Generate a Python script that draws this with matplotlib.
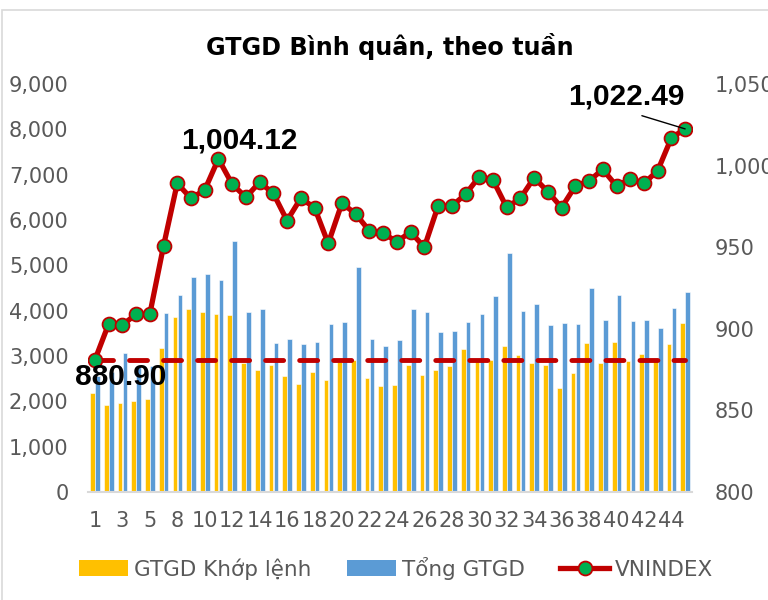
import matplotlib
matplotlib.use("Agg")
import matplotlib.pyplot as plt
import numpy as np
from matplotlib.patches import Patch, Rectangle
from matplotlib.lines import Line2D
from matplotlib.font_manager import FontProperties

# ---------------- data ----------------
weeks = [1, 2, 3, 4, 5, 7, 8, 9, 10, 11, 12, 13, 14, 15, 16, 17, 18, 19, 20, 21, 22,
         23, 24, 25, 26, 27, 28, 29, 30, 31, 32, 33, 34, 35, 36, 37, 38, 39, 40, 41,
         42, 43, 44, 45]

gtgd_khop_lenh = [2190, 1919, 1956, 2015, 2044, 3170, 3868, 4030, 3964, 3920, 3905,
                  2840, 2691, 2800, 2566, 2375, 2640, 2470, 2875, 2912, 2522, 2340,
                  2350, 2800, 2588, 2698, 2780, 3155, 2934, 2912, 3220, 3022, 2845,
                  2800, 2302, 2618, 3294, 2845, 3309, 2890, 3040, 2956, 3265, 3728]

tong_gtgd = [2550, 2650, 3060, 2750, 2780, 3942, 4346, 4750, 4802, 4677, 5545, 3978,
             4030, 3294, 3375, 3257, 3316, 3699, 3757, 4971, 3375, 3221, 3353, 4044,
             3978, 3523, 3552, 3743, 3920, 4324, 5280, 4000, 4147, 3677, 3720, 3699,
             4500, 3801, 4339, 3779, 3801, 3625, 4059, 4419]

vnindex = [880.90, 902.9, 902.3, 908.9, 908.9, 950.7, 989.1, 980.0, 985.0, 1004.12,
           988.7, 980.6, 989.8, 983.0, 966.3, 980.0, 974.3, 952.3, 977.0, 970.4,
           960.0, 958.5, 953.4, 959.3, 950.0, 975.2, 975.2, 982.4, 993.2, 991.2,
           974.4, 980.0, 992.6, 984.0, 974.3, 987.5, 990.6, 997.7, 987.5, 991.8,
           989.1, 996.9, 1017.0, 1022.49]

baseline_value = 880.90
annotated = {0: "880.90", 9: "1,004.12", 43: "1,022.49"}

title = "GTGD Bình quân, theo tuần"
legend_labels = ["GTGD Khớp lệnh", "Tổng GTGD", "VNINDEX"]
left_ticks = [0, 1000, 2000, 3000, 4000, 5000, 6000, 7000, 8000, 9000]
right_ticks = [800, 850, 900, 950, 1000, 1050]

# ---------------- style ----------------
YELLOW = "#FFC000"
BLUE = "#5B9BD5"
RED = "#C00000"
GREEN = "#00B050"
GRAY = "#595959"

plt.rcParams["font.family"] = ["DejaVu Sans"]
label_font = ["Liberation Sans", "DejaVu Sans"]

fig = plt.figure(figsize=(7.68, 6.0), dpi=100)
W, H = 768, 600
ax = fig.add_axes([88 / W, 1 - 492 / H, (692 - 88) / W, (492 - 84) / H])
ax2 = ax.twinx()

# chart border
fig.patches.append(Rectangle((2 / W, -0.05), 1.1, 1 - 10 / H + 0.05, transform=fig.transFigure,
                             fill=False, edgecolor="#D9D9D9", linewidth=1.2))

x = np.arange(len(weeks))
bw = 0.34
ax.bar(x - 0.17, gtgd_khop_lenh, width=bw, color=YELLOW, edgecolor="white", linewidth=0.4, zorder=2)
ax.bar(x + 0.19, tong_gtgd, width=bw, color=BLUE, edgecolor="white", linewidth=0.4, zorder=2)

ax.set_xlim(-0.5, len(weeks) - 0.5)
ax.set_ylim(0, 9000)
ax.set_yticks(left_ticks)
ax.set_yticklabels([f"{v:,}" for v in left_ticks])
ax.set_xticks(x[::2])
ax.set_xticklabels([str(w) for w in weeks[::2]])

ax2.set_ylim(800, 1050)
ax2.set_yticks(right_ticks)
ax2.set_yticklabels([f"{v:,}" for v in right_ticks])

for a in (ax, ax2):
    for s in a.spines.values():
        s.set_visible(False)
    a.tick_params(length=0, labelsize=15, labelcolor=GRAY)
ax.spines["bottom"].set_visible(True)
ax.spines["bottom"].set_color("#D9D9D9")
ax.spines["bottom"].set_linewidth(1.5)
ax.tick_params(axis="y", pad=14)
ax.tick_params(axis="x", pad=14)
ax2.tick_params(axis="y", pad=16)

# dashed reference line
ax2.plot(x, [baseline_value] * len(x), color=RED, linewidth=3.5,
         dashes=(3.7, 3.3), dash_capstyle="round", zorder=3)

# VNINDEX line
ax2.plot(x, vnindex, color=RED, linewidth=3.8, marker="o", markersize=10,
         markerfacecolor=GREEN, markeredgecolor=RED, markeredgewidth=1.3, zorder=4)

offsets = {0: (26, -17), 9: (21, 18), 43: (-59, 32)}
for i, txt in annotated.items():
    dx, dy = offsets[i]
    kw = {}
    if i == 43:
        kw = dict(arrowprops=dict(arrowstyle="-", color="black", lw=1.0,
                                  shrinkA=5, shrinkB=0, relpos=(0.5, 0.0)))
    ax2.annotate(txt, xy=(x[i], vnindex[i]), xytext=(dx, dy),
                 textcoords="offset pixels", ha="center", va="center",
                 fontsize=21.5, fontweight="bold", color="black", zorder=6,
                 family=label_font, **kw)

fig.text(390 / W, 1 - 47 / H, title, ha="center", va="center", fontsize=17.2,
         fontweight="bold", color="black")

handles = [Patch(facecolor=YELLOW, edgecolor="none"),
           Patch(facecolor=BLUE, edgecolor="none"),
           Line2D([], [], color=RED, linewidth=3.8, marker="o", markersize=10,
                  markerfacecolor=GREEN, markeredgecolor=RED, markeredgewidth=1.3)]
fp = FontProperties(family=["DejaVu Sans"], size=15.5)
leg = fig.legend(handles, legend_labels, loc="center", bbox_to_anchor=(396 / W, 1 - 568 / H),
                 ncol=3, frameon=False, prop=fp, handlelength=2.3, handleheight=0.7,
                 handletextpad=0.25, columnspacing=1.65)
for t in leg.get_texts():
    t.set_color(GRAY)

fig.savefig("out.png", dpi=100)
